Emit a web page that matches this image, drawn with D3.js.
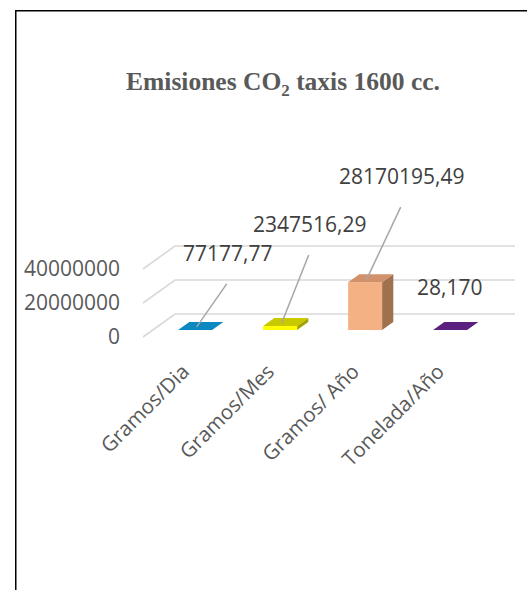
<!DOCTYPE html>
<html>
<head>
<meta charset="utf-8">
<script src="https://cdn.jsdelivr.net/npm/d3@7"></script>
<style>
  html, body { margin: 0; padding: 0; background: #fff; }
  svg { display: block; }
</style>
</head>
<body>
<svg id="chart" width="527" height="590"></svg>
<script>
// Data
const categories = ["Gramos/Dia", "Gramos/Mes", "Gramos/ Año", "Tonelada/Año"];
const values = [77177.77, 2347516.29, 28170195.49, 28.170];
const valueLabels = ["77177,77", "2347516,29", "28170195,49", "28,170"];
const tickValues = [0, 20000000, 40000000];

// Colours per category: front, top, side faces
const fronts = ["#1199d4", "#ffff00", "#f4b183", "#7030a0"];
const tops   = ["#0b88bf", "#c9c900", "#d2916a", "#5a2180"];
const sides  = ["#086a94", "#a3a300", "#a0714f", "#441760"];

// Label placement relative to the centre of each bar's top face
const labelOffsets = [[27, -66], [24, -91], [31, -95], [-6, -32]];
const showLeader = [true, true, true, false];

const svg = d3.select("#chart");

// Frame
svg.append("path")
  .attr("d", "M15.75,590 V10.75 H527")
  .attr("fill", "none").attr("stroke", "#000").attr("stroke-width", 1.5);

// Title
const title = svg.append("text")
  .attr("x", 283).attr("y", 90)
  .attr("text-anchor", "middle")
  .attr("font-family", "'Liberation Serif', 'Times New Roman', serif")
  .attr("font-weight", "bold")
  .attr("font-size", 25.5)
  .attr("fill", "#595959");
title.append("tspan").text("Emisiones CO");
title.append("tspan").attr("font-size", 17).attr("dy", 6).text("2");
title.append("tspan").attr("dy", -6).text(" taxis 1600 cc.");

// 3D projection of the plot box
const x0 = 143, x1 = 483;       // front edge of floor
const yFloor = 337;             // front floor line
const depthDX = 32, depthDY = -23;
const barD0 = 0.3, barD1 = 0.65;

const x = d3.scaleBand().domain(categories).range([x0, x1])
  .paddingInner(0.6).paddingOuter(0.3);
const h = d3.scaleLinear().domain([0, 40000000]).range([0, 68]);

const P = (px, v, d) => [px + depthDX * d, yFloor - h(v) + depthDY * d];

// Gridlines: left wall diagonals + back wall horizontals
const grid = svg.append("g").attr("stroke", "#d9d9d9").attr("stroke-width", 1.6).attr("fill", "none");
tickValues.forEach(t => {
  const a = P(x0, t, 0), b = P(x0, t, 1), c = P(x1, t, 1);
  grid.append("path").attr("d", `M${a[0]},${a[1]} L${b[0]},${b[1]} L${c[0]},${c[1]}`);
});

// Value axis labels at the front edge
const yFront = d3.scaleLinear().domain(h.domain()).range([yFloor, yFloor - h(40000000)]);
const axis = svg.append("g")
  .attr("transform", "translate(123,0)")
  .call(d3.axisLeft(yFront).tickValues(tickValues).tickSize(0).tickPadding(3).tickFormat(d3.format("d")));
axis.select(".domain").remove();
axis.selectAll("text")
  .attr("font-family", "'Open Sans', sans-serif")
  .attr("font-size", 21)
  .attr("fill", "#595959");

// Bars
const bars = svg.append("g");
categories.forEach((c, i) => {
  const l = x(c), r = x(c) + x.bandwidth(), v = values[i];
  const fbl = P(l, 0, barD0), fbr = P(r, 0, barD0);
  const ftl = P(l, v, barD0), ftr = P(r, v, barD0);
  const btl = P(l, v, barD1), btr = P(r, v, barD1), bbr = P(r, 0, barD1);
  const poly = pts => "M" + pts.map(p => p.join(",")).join("L") + "Z";
  bars.append("path").attr("d", poly([fbr, ftr, btr, bbr])).attr("fill", sides[i]);
  bars.append("path").attr("d", poly([fbl, fbr, ftr, ftl])).attr("fill", fronts[i]);
  bars.append("path").attr("d", poly([ftl, ftr, btr, btl])).attr("fill", tops[i]);
});

// Data labels with leader lines
const labels = svg.append("g");
categories.forEach((c, i) => {
  const cx = x(c) + x.bandwidth() / 2;
  const top = P(cx, values[i], (barD0 + barD1) / 2);
  const lx = top[0] + labelOffsets[i][0], ly = top[1] + labelOffsets[i][1];
  if (showLeader[i]) {
    labels.append("line")
      .attr("x1", lx - 1).attr("y1", ly + 24)
      .attr("x2", top[0] - 4).attr("y2", top[1] + 1)
      .attr("stroke", "#a6a6a6").attr("stroke-width", 1.5);
  }
  labels.append("text")
    .attr("x", lx).attr("y", ly + 1)
    .attr("text-anchor", "middle")
    .attr("font-family", "'Open Sans', sans-serif")
    .attr("font-size", 21)
    .attr("fill", "#404040")
    .text(valueLabels[i]);
});

// Category labels
const catG = svg.append("g");
categories.forEach(c => {
  const cx = x(c) + x.bandwidth() / 2;
  catG.append("text")
    .attr("transform", `translate(${cx + 5},373) rotate(-45)`)
    .attr("text-anchor", "end")
    .attr("font-family", "'Open Sans', sans-serif")
    .attr("font-size", 20.5)
    .attr("fill", "#595959")
    .text(c);
});
</script>
</body>
</html>
